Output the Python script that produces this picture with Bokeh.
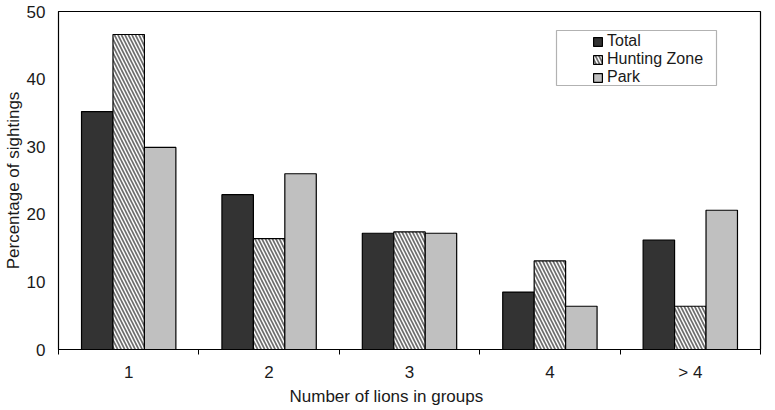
from bokeh.plotting import figure
from bokeh.models import (ColumnDataSource, FixedTicker, Legend, LegendItem,
                          BoxAnnotation, Title)
from bokeh.embed import file_html
from bokeh.resources import INLINE

categories = ["1", "2", "3", "4", "> 4"]
total = [35.2, 22.9, 17.2, 8.5, 16.2]
hunting = [46.6, 16.4, 17.4, 13.1, 6.4]
park = [29.9, 26.0, 17.2, 6.4, 20.6]
y_ticks = [0, 10, 20, 30, 40, 50]
series_names = ["Total", "Hunting Zone", "Park"]

FONT = "Liberation Sans"
FS = "17px"
n = len(categories)
centers = [i + 0.5 for i in range(n)]
bw = 0.224

src = ColumnDataSource(dict(
    x_total=[c - bw for c in centers],
    x_hunt=centers,
    x_park=[c + bw for c in centers],
    total=total, hunting=hunting, park=park,
))

p = figure(width=762, height=405, x_range=(0, n), y_range=(0, 50),
           output_backend="svg", toolbar_location=None,
           min_border_left=52, min_border_top=11, min_border_right=2,
           min_border_bottom=50)
p.background_fill_color = "white"
p.border_fill_color = "white"
p.outline_line_color = "black"
p.outline_line_width = 1.2
p.xgrid.visible = False
p.ygrid.visible = False

r1 = p.vbar(x="x_total", top="total", width=bw, source=src,
            fill_color="#333333", line_color="black", line_width=1.2)
r2 = p.vbar(x="x_hunt", top="hunting", width=bw, source=src,
            fill_color="white", line_color="black", line_width=1.2,
            hatch_pattern="\\", hatch_color="#6e6e6e", hatch_scale=7,
            hatch_weight=1.7)
r3 = p.vbar(x="x_park", top="park", width=bw, source=src,
            fill_color="#c0c0c0", line_color="black", line_width=1.2)

# y axis
ya = p.yaxis[0]
ya.ticker = FixedTicker(ticks=y_ticks)
ya.major_tick_line_color = None
ya.minor_tick_line_color = None
ya.major_tick_out = 0
ya.major_tick_in = 0
ya.major_label_standoff = 13
ya.axis_line_color = "black"
ya.major_label_text_font = FONT
ya.major_label_text_font_size = FS
ya.major_label_text_color = "#1a1a1a"
ya.axis_label = "Percentage of sightings"
ya.axis_label_text_font = FONT
ya.axis_label_text_font_size = FS
ya.axis_label_text_font_style = "normal"
ya.axis_label_text_color = "#1a1a1a"
ya.axis_label_standoff = 1

# x axis
xa = p.xaxis[0]
xa.ticker = FixedTicker(ticks=centers, minor_ticks=list(range(n + 1)))
xa.major_label_overrides = {c: lab for c, lab in zip(centers, categories)}
xa.major_tick_line_color = None
xa.major_tick_out = 0
xa.major_tick_in = 0
xa.minor_tick_line_color = "black"
xa.minor_tick_out = 5
xa.minor_tick_in = 0
xa.axis_line_color = "black"
xa.major_label_standoff = 8
xa.major_label_text_font = FONT
xa.major_label_text_font_size = FS
xa.major_label_text_color = "#1a1a1a"

p.add_layout(Title(text="Number  of lions in groups", align="left", offset=231,
                   text_font=FONT, text_font_size=FS,
                   text_font_style="normal", text_color="#1a1a1a",
                   standoff=0), "below")

box = BoxAnnotation(left=498, right=658, bottom=264, top=319,
                    left_units="screen", right_units="screen",
                    bottom_units="screen", top_units="screen",
                    fill_color="white", fill_alpha=1.0,
                    line_color="black", line_width=1.2)
p.add_layout(box)

legend = Legend(items=[LegendItem(label=series_names[0], renderers=[r1]),
                       LegendItem(label=series_names[1], renderers=[r2]),
                       LegendItem(label=series_names[2], renderers=[r3])],
                location=(534, 263), border_line_color=None,
                background_fill_alpha=0, padding=0, margin=0, spacing=0,
                glyph_width=11, glyph_height=11, label_height=18,
                label_standoff=4, label_text_font=FONT,
                label_text_font_size="16px", label_text_color="#1a1a1a")
p.add_layout(legend, "center")

open("out.html", "w").write(file_html(p, INLINE))
